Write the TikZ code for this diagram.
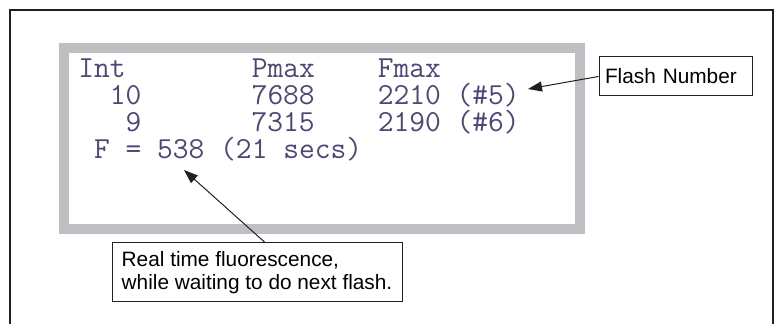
\documentclass[tikz,border=0pt]{standalone}
\usepackage{fontspec}
\newfontfamily\labelfont{Liberation Sans}
\definecolor{LcdText}{HTML}{4A4878}
\definecolor{LcdGrey}{HTML}{BEBFC3}
\definecolor{FrameInk}{HTML}{231F20}
\usetikzlibrary{arrows.meta, positioning}

\begin{document}
\begin{tikzpicture}[x=0.5pt, y=0.5pt,
    lcdtext/.style={anchor=base west, inner sep=0pt, text=LcdText, align=left,
      font=\ttfamily\fontsize{15.3}{13.5}\selectfont},
    callout/.style={draw=FrameInk, line width=0.5pt, align=left,
      font=\labelfont\fontsize{10.4}{11.5}\selectfont, inner ysep=0pt},
    pointer/.style={-{Triangle[length=7pt, width=5pt]}, line width=0.5pt, FrameInk}]
  \useasboundingbox (0,0) rectangle (775,324);
  % Outer frame, open at the bottom
  \draw[line width=1pt, FrameInk] (10,0) -- (10,314) -- (773,314) -- (773,0);
  % Display window
  \draw[line width=5pt, LcdGrey] (64,95) rectangle (580,276);
  % Display readout (base anchor sits on the last line)
  \node[lcdtext] (readout) at (78,165)
    {Int~~~~~~~~Pmax~~~~Fmax\\
     ~~10~~~~~~~7688~~~~2210~(\#5)\\
     ~~~9~~~~~~~7315~~~~2190~(\#6)\\
     ~F~=~538~(21~secs)};
  % Callouts
  \node[callout, text width=70.5pt, inner xsep=3pt, minimum height=19.5pt]
    (flash) at (675.5,247.5) {Flash Number};
  \node[callout, minimum width=145pt, minimum height=29.5pt]
    (note) at (257,51.5) {Real time fluorescence,\\while waiting to do next flash.};
  \coordinate (flashtip) at (528,235);
  \coordinate (livetip) at (184,154);
  \draw[pointer] (flash.west) -- (flashtip);
  \draw[pointer] ([xshift=4pt]note.north) -- (livetip);
\end{tikzpicture}
\end{document}
